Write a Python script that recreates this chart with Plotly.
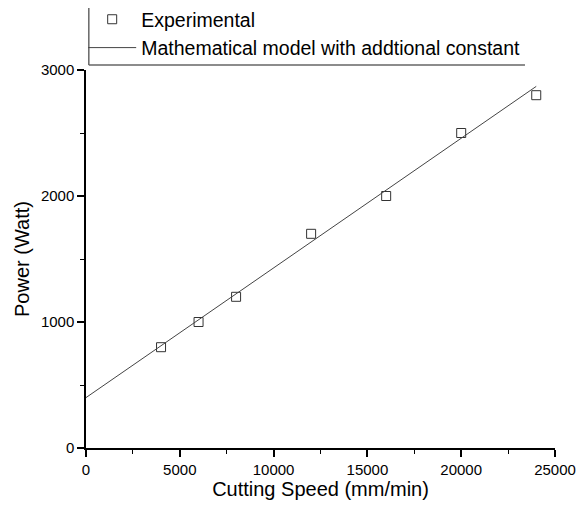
import plotly.graph_objects as go

# Experimental data
speed = [4000, 6000, 8000, 12000, 16000, 20000, 24000]
power = [800, 1000, 1200, 1700, 2000, 2500, 2800]

# Mathematical model with additional constant (straight line end points)
model_speed = [0, 24000]
model_power = [400, 2870]

x_ticks = [0, 5000, 10000, 15000, 20000, 25000]
y_ticks = [0, 1000, 2000, 3000]

FONT = "Liberation Sans, Arial, sans-serif"

fig = go.Figure()
fig.add_trace(go.Scatter(
    x=speed, y=power, mode="markers", name="Experimental",
    marker=dict(symbol="square-open", size=9, color="#333333", line=dict(width=1)),
))
fig.add_trace(go.Scatter(
    x=model_speed, y=model_power, mode="lines",
    name="Mathematical model with addtional constant",
    line=dict(color="#444444", width=1),
))

axis_common = dict(
    showline=True, linecolor="black", linewidth=1.5, mirror=False,
    ticks="outside", ticklen=7, tickwidth=1.5, tickcolor="black",
    showgrid=False, zeroline=False,
    tickfont=dict(family=FONT, size=15, color="black"),
    minor=dict(ticks="outside", ticklen=4, tickwidth=1.2, tickcolor="black"),
)

fig.update_xaxes(
    range=[0, 25000], tickvals=x_ticks, ticktext=[str(v) for v in x_ticks],
    title=dict(text="Cutting Speed (mm/min)", font=dict(family=FONT, size=20, color="black"), standoff=1),
    minor_dtick=2500, **axis_common,
)
fig.update_yaxes(
    range=[0, 3000], tickvals=y_ticks, ticktext=[str(v) for v in y_ticks],
    title=dict(text="Power (Watt)", font=dict(family=FONT, size=20, color="black"), standoff=6),
    minor_dtick=500, **axis_common,
)

fig.update_layout(
    width=584, height=508,
    margin=dict(l=86, r=29, t=70, b=60, autoexpand=False),
    plot_bgcolor="white", paper_bgcolor="white",
    showlegend=True,
    legend=dict(
        x=-0.006, y=1.185, xanchor="left", yanchor="top",
        font=dict(family=FONT, size=19.5, color="black"),
        bgcolor="rgba(0,0,0,0)", borderwidth=0, itemwidth=48,
        tracegroupgap=0,
    ),
    shapes=[
        dict(type="line", xref="paper", yref="paper", x0=0.006, x1=0.936, y0=1.0132, y1=1.0132,
             line=dict(color="#666666", width=1.5)),
        dict(type="line", xref="paper", yref="paper", x0=0.006, x1=0.006, y0=1.0132, y1=1.164,
             line=dict(color="#666666", width=1.5)),
    ],
)

fig.write_html("out.html")
